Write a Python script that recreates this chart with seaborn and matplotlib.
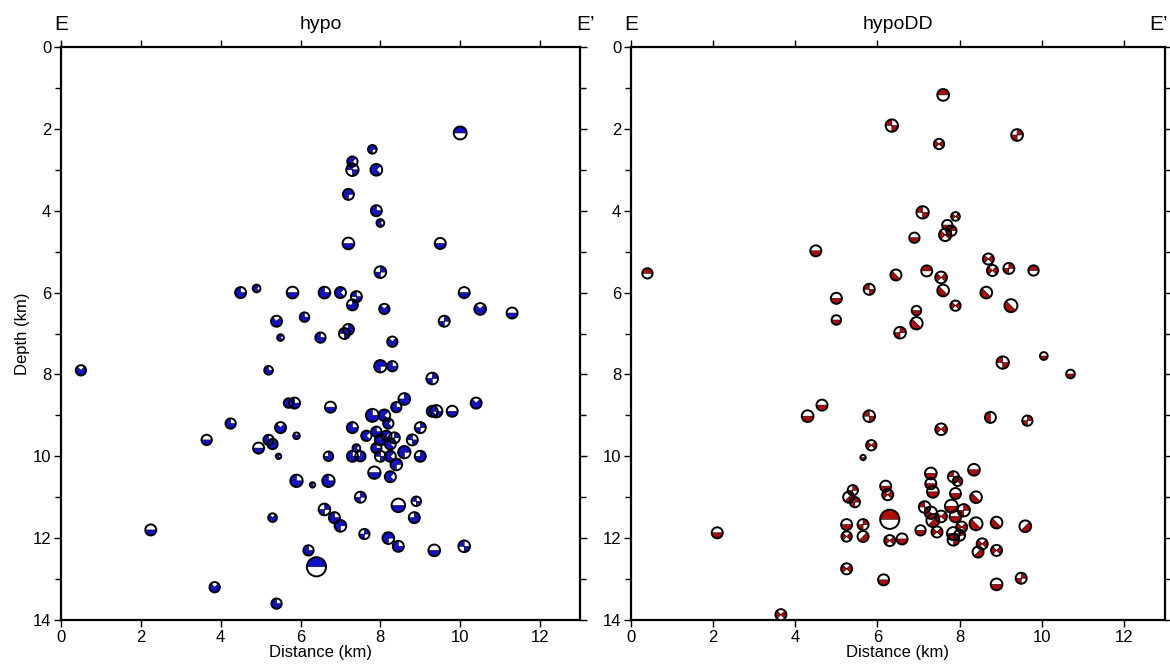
import numpy as np
import pandas as pd
import matplotlib
matplotlib.use("Agg")
import matplotlib.pyplot as plt
from matplotlib.path import Path
from matplotlib.markers import MarkerStyle
from matplotlib.ticker import MultipleLocator
import seaborn as sns

sns.set_theme(style="white")
plt.rcParams['font.family'] = ['Liberation Sans', 'DejaVu Sans']
plt.rcParams['text.color'] = 'black'

# hypo: distance (km), depth (km), magnitude, mechanism code
hypo_x = [10.0, 7.8, 7.3, 7.3, 7.9, 7.2, 7.9, 8.0, 7.2, 9.5, 8.0, 4.5, 4.9, 5.8, 6.6, 7.0,
          7.4, 7.3, 8.1, 10.1, 10.5, 11.3, 5.4, 6.1, 9.6, 5.5, 6.5, 7.1, 7.2, 8.3,
          0.5, 5.2, 8.0, 8.3, 9.3, 8.6, 10.4, 5.7, 5.85, 6.75, 8.4, 7.8, 8.1, 9.3, 9.4, 9.8,
          4.25, 8.2, 7.3, 5.5, 9.0, 7.65, 5.9, 7.9, 8.15, 8.35, 3.65, 5.2, 5.3, 8.8, 8.0, 8.25,
          4.95, 7.4, 7.9, 8.6, 5.45, 6.7, 7.3, 7.5, 8.0, 8.25, 9.0, 8.4, 7.85, 5.9, 6.7, 8.25,
          6.3, 7.5, 8.9, 8.45, 6.6, 6.85, 5.3, 8.85, 7.0, 2.25, 7.6, 8.2, 8.45, 9.35, 10.1,
          6.2, 6.4, 3.85, 5.4]
hypo_z = [2.1, 2.5, 2.8, 3.0, 3.0, 3.6, 4.0, 4.3, 4.8, 4.8, 5.5, 6.0, 5.9, 6.0, 6.0, 6.0,
          6.1, 6.3, 6.4, 6.0, 6.4, 6.5, 6.7, 6.6, 6.7, 7.1, 7.1, 7.0, 6.9, 7.2,
          7.9, 7.9, 7.8, 7.8, 8.1, 8.6, 8.7, 8.7, 8.7, 8.8, 8.8, 9.0, 9.0, 8.9, 8.9, 8.9,
          9.2, 9.2, 9.3, 9.3, 9.3, 9.5, 9.5, 9.4, 9.5, 9.55, 9.6, 9.6, 9.7, 9.6, 9.6, 9.7,
          9.8, 9.8, 9.8, 9.9, 10.0, 10.0, 10.0, 10.0, 10.0, 10.0, 10.0, 10.2, 10.4, 10.6, 10.6, 10.5,
          10.7, 11.0, 11.1, 11.2, 11.3, 11.5, 11.5, 11.5, 11.7, 11.8, 11.9, 12.0, 12.2, 12.3, 12.2,
          12.3, 12.7, 13.2, 13.6]
hypo_mag = [1.4, 0.8, 1.0, 1.3, 1.2, 1.1, 1.1, 0.7, 1.2, 1.1, 1.2, 1.1, 0.7, 1.2, 1.2, 1.1,
            1.1, 1.1, 1.0, 1.1, 1.2, 1.1, 1.1, 0.9, 1.1, 0.6, 1.0, 1.1, 1.1, 1.0,
            1.0, 0.8, 1.3, 1.0, 1.2, 1.2, 1.1, 0.9, 1.1, 1.1, 1.0, 1.4, 1.2, 1.1, 1.3, 1.1,
            1.0, 1.0, 1.1, 1.1, 1.1, 1.0, 0.6, 1.0, 1.0, 1.1, 1.0, 1.0, 1.0, 1.1, 1.1, 1.1,
            1.1, 0.7, 1.0, 1.3, 0.5, 0.9, 1.1, 1.0, 1.1, 1.1, 1.1, 1.2, 1.3, 1.3, 1.3, 1.1,
            0.5, 1.1, 0.9, 1.5, 1.2, 1.1, 0.8, 1.1, 1.2, 1.1, 1.0, 1.2, 1.1, 1.2, 1.2,
            1.0, 2.7, 1.0, 1.0]
hypo_mech = ['h90', 'w135', 'w180', 'q135', 'w180', 'w135', 'w225', 'w180', 'h270', 'h270',
             'q45', 'w225', 'w180', 'h270', 'w225', 'w180', 'q135', 'w315', 'w270', 'h270',
             'w270', 'h270', 'w270', 'w225', 'q45', 'w180', 'w225', 'q135', 'w315', 'w270',
             'w270', 'w225', 'w135', 'w225', 'q45', 'w315', 'w270', 'w180', 'w225', 'h270',
             'w225', 'w225', 'w180', 'w180', 'q135', 'h270', 'w225', 'w180', 'w225', 'w270',
             'q45', 'w180', 'w270', 'w225', 'w180', 'q45', 'h270', 'w225', 'w270', 'q135',
             'w225', 'w180', 'h270', 'w180', 'w225', 'w135', 'w180', 'w315', 'w225', 'w315',
             'q135', 'w180', 'w315', 'w135', 'h270', 'w225', 'w225', 'w180', 'w180', 'q45',
             'q135', 'h270', 'q45', 'w225', 'w270', 'w315', 'w135', 'h270', 'q45', 'w135',
             'w225', 'h270', 'q135', 'w225', 'h90', 'w270', 'w225']

# hypoDD
dd_x = [7.6, 6.35, 9.4, 7.5, 7.1, 7.9, 7.7, 7.8, 7.65, 6.9, 4.5, 0.4, 8.7, 8.8, 9.2, 9.8,
        7.2, 6.45, 7.55, 7.6, 5.8, 5.0, 8.65, 9.25, 7.9, 6.95, 5.0, 6.95, 6.55,
        10.05, 9.05, 10.7, 4.65, 4.3, 5.8, 8.75, 9.65, 7.55, 5.85, 5.65, 8.35, 7.3, 7.85,
        7.95, 7.3, 7.35, 5.4, 6.2, 6.25, 7.9, 8.4, 5.3, 5.45, 7.15, 7.8, 8.1, 7.3, 7.55,
        7.9, 6.3, 7.35, 8.4, 8.9, 9.6, 5.25, 5.65, 8.05, 7.05, 7.45, 7.85, 8.0, 5.25, 5.65,
        7.85, 6.6, 6.3, 8.55, 8.45, 8.9, 5.25, 6.15, 9.5, 8.9, 3.65, 2.1]
dd_z = [1.17, 1.92, 2.15, 2.37, 4.04, 4.14, 4.35, 4.49, 4.59, 4.66, 4.98, 5.53, 5.18, 5.46,
        5.41, 5.46, 5.47, 5.57, 5.63, 5.95, 5.92, 6.14, 6.0, 6.32, 6.32, 6.44, 6.67, 6.75, 6.98,
        7.55, 7.71, 7.99, 8.75, 9.02, 9.02, 9.05, 9.13, 9.34, 9.73, 10.03, 10.33, 10.42, 10.5,
        10.61, 10.67, 10.87, 10.83, 10.73, 10.94, 10.91, 11.0, 11.0, 11.12, 11.24, 11.22, 11.32,
        11.38, 11.47, 11.47, 11.54, 11.57, 11.65, 11.62, 11.71, 11.67, 11.67, 11.73, 11.81,
        11.85, 11.89, 11.93, 11.96, 11.96, 12.04, 12.02, 12.06, 12.14, 12.34, 12.3, 12.75,
        13.02, 12.98, 13.13, 13.87, 11.87]
dd_mag = [1.2, 1.3, 1.2, 1.0, 1.3, 0.8, 1.0, 1.0, 1.3, 1.0, 1.1, 1.0, 1.1, 1.1, 1.1, 1.0,
          1.1, 1.1, 1.2, 1.2, 1.1, 1.1, 1.2, 1.4, 1.0, 0.9, 0.9, 1.3, 1.2,
          0.7, 1.3, 0.8, 1.1, 1.2, 1.2, 1.1, 1.0, 1.2, 1.0, 0.4, 1.2, 1.2, 1.1,
          0.9, 1.1, 1.2, 1.0, 1.1, 1.1, 1.1, 1.2, 1.1, 1.0, 1.2, 1.4, 1.3, 1.3, 1.2,
          1.2, 2.7, 1.4, 1.4, 1.2, 1.2, 1.1, 1.1, 1.1, 1.0, 1.1, 1.4, 1.1, 1.0, 1.1,
          1.2, 1.1, 1.1, 1.1, 1.1, 1.1, 1.1, 1.1, 1.1, 1.2, 1.1, 1.1]
dd_mech = ['h90', 'q135', 'q45', 'q0', 'q135', 'q0', 'h270', 'q45', 'q0', 'h270', 'h270',
           'h90', 'q0', 'q0', 'q45', 'h90', 'h90', 'h225', 'q0', 'h225', 'q135', 'h270',
           'h225', 'h225', 'q0', 'h270', 'h270', 'h225', 'q45',
           'h270', 'q135', 'h270', 'h270', 'h270', 'q135', 'h180', 'q45', 'q0', 'q0', 'h270',
           'h270', 'h270', 'q135', 'q0', 'h270', 'h270', 'q45', 'h270', 'q0', 'h270', 'h225',
           'h315', 'q45', 'q135', 'h270', 'q45', 'h225', 'q0', 'h270', 'h90', 'h315', 'h225',
           'h225', 'h315', 'h270', 'q45', 'q0', 'h270', 'q0', 'h270', 'q45', 'q0', 'h315',
           'q135', 'h270', 'q0', 'q0', 'h315', 'q0', 'q0', 'h270', 'q45', 'h270', 'q0', 'h270']


def sector(a0, a1):
    t = np.deg2rad(np.arange(a0, a1 + 0.1, 3.0))
    verts = np.vstack([[0, 0], np.column_stack([np.cos(t), np.sin(t)]), [0, 0]])
    return Path(verts, closed=True)


def mech_path(code):
    kind, ang = code[0], int(code[1:])
    if kind == 'h':
        parts = [sector(ang - 90, ang + 90)]
    elif kind == 'w':
        parts = [sector(ang - 135, ang + 135)]
    else:
        parts = [sector(ang - 45, ang + 45), sector(ang + 135, ang + 225)]
    return Path.make_compound_path(*parts)


size_kw = dict(size='mag', sizes=(15, 215), size_norm=(0.5, 3.0), legend=False)


def beachballs(ax, df, fill):
    sns.scatterplot(data=df, x='dist', y='depth', marker='o', color='white',
                    edgecolor='none', linewidth=0, zorder=3, ax=ax, **size_kw)
    markers = {c: MarkerStyle(mech_path(c)) for c in df['mech'].unique()}
    sns.scatterplot(data=df, x='dist', y='depth', style='mech', markers=markers,
                    color=fill, edgecolor='black', linewidth=0.4, zorder=4, ax=ax, **size_kw)
    sns.scatterplot(data=df, x='dist', y='depth', marker='o', color='black',
                    facecolor='none', edgecolor='black', linewidth=1.4, zorder=5, ax=ax, **size_kw)


def style_axes(ax, title, ylabel):
    ax.set_xlim(0, 13)
    ax.set_ylim(14, 0)
    ax.xaxis.set_major_locator(MultipleLocator(2))
    ax.yaxis.set_major_locator(MultipleLocator(2))
    ax.yaxis.set_minor_locator(MultipleLocator(1))
    ax.tick_params(which='both', direction='out', top=True, right=True, left=True, bottom=True,
                   labeltop=False, labelright=False, width=1, color='black',
                   labelsize=12, labelcolor='black', pad=2)
    ax.tick_params(which='major', length=5)
    ax.tick_params(which='minor', length=4, top=False, bottom=False)
    for s in ax.spines.values():
        s.set_linewidth(1.6)
        s.set_color('black')
    ax.set_xlabel('Distance (km)', fontsize=12, labelpad=0, color='black')
    ax.set_ylabel(ylabel, fontsize=12, labelpad=2, color='black')
    ax.text(0.5, 1.04, title, transform=ax.transAxes, ha='center', va='center', fontsize=14)
    ax.text(0.0, 1.04, 'E', transform=ax.transAxes, ha='center', va='center', fontsize=15)


hypo = pd.DataFrame({'dist': hypo_x, 'depth': hypo_z, 'mag': hypo_mag, 'mech': hypo_mech})
dd = pd.DataFrame({'dist': dd_x, 'depth': dd_z, 'mag': dd_mag, 'mech': dd_mech})

fig = plt.figure(figsize=(11.7, 6.67), dpi=100)
ax1 = fig.add_axes([0.0521, 0.0705, 0.4436, 0.859])
ax2 = fig.add_axes([0.5393, 0.0705, 0.4564, 0.859])

beachballs(ax1, hypo, '#1212cc')
beachballs(ax2, dd, '#b30a0a')

style_axes(ax1, 'hypo', 'Depth (km)')
style_axes(ax2, 'hypoDD', '')
ax1.text(1.01, 1.04, 'E\u2019', transform=ax1.transAxes, ha='center', va='center', fontsize=15)
fig.text(0.998, 0.964, 'E\u2019', ha='right', va='center', fontsize=15)

fig.savefig('out.png', dpi=100)
